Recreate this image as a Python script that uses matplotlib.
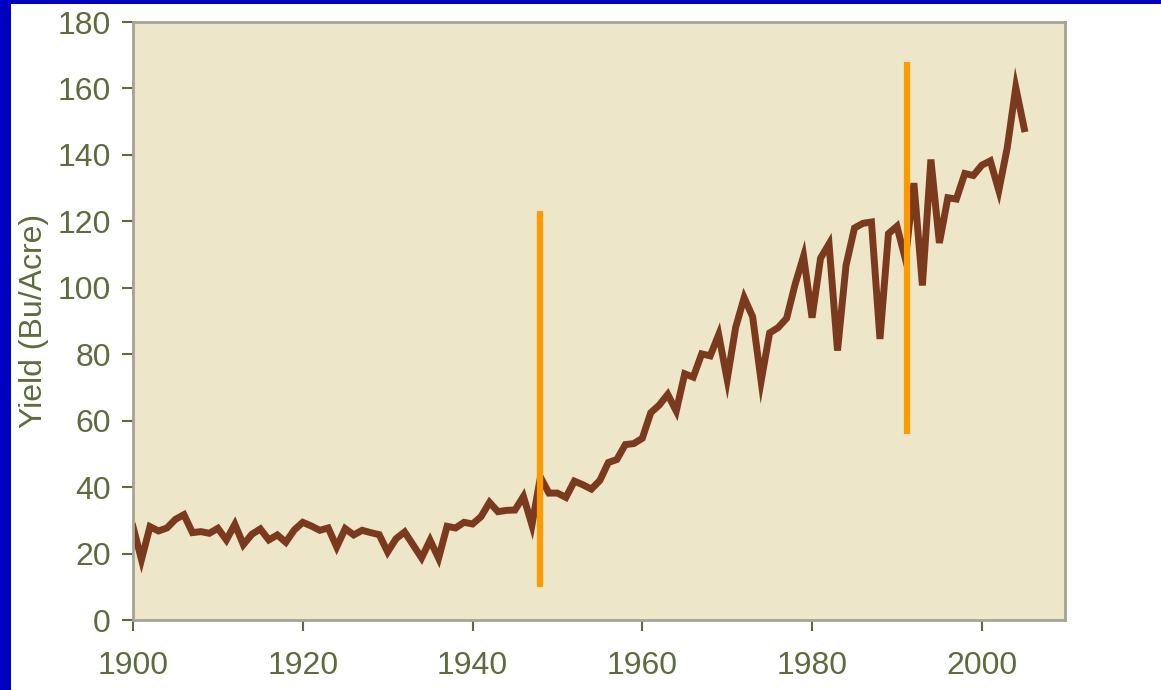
import matplotlib.pyplot as plt
from matplotlib.patches import Rectangle

# US corn yield, bushels per acre
years = list(range(1900, 2006))
yields = [
    28.1, 18.2, 28.1, 26.8, 27.7, 30.3, 31.7, 26.3, 26.6, 26.1,
    27.6, 24.1, 28.8, 22.7, 25.8, 27.4, 24.1, 25.6, 23.4, 27.1,
    29.4, 28.3, 27.0, 27.7, 22.0, 27.5, 25.6, 27.0, 26.3, 25.7,
    20.5, 24.5, 26.5, 22.6, 18.7, 24.0, 18.6, 28.2, 27.7, 29.4,
    28.9, 31.1, 35.4, 32.6, 33.0, 33.1, 37.2, 28.6, 43.0, 38.2,
    38.2, 36.9, 41.8, 40.7, 39.4, 42.0, 47.4, 48.3, 52.8, 53.1,
    54.7, 62.4, 64.7, 67.9, 62.9, 74.1, 73.1, 80.1, 79.5, 85.9,
    72.4, 88.1, 97.0, 91.3, 71.9, 86.4, 88.0, 90.8, 101.0, 109.5,
    91.0, 108.9, 113.2, 81.1, 106.7, 118.0, 119.4, 119.8, 84.6, 116.3,
    118.5, 108.6, 131.5, 100.7, 138.6, 113.5, 127.1, 126.7, 134.4, 133.8,
    136.9, 138.2, 129.3, 142.2, 160.3, 147.9,
]

# orange marker lines: (year, bottom, top)
marker_years = [1948, 1991.2]
marker_bottoms = [10, 56]
marker_tops = [123, 168]

x_ticks = [1900, 1920, 1940, 1960, 1980, 2000]
y_ticks = list(range(0, 181, 20))

text_color = '#5e6b3c'
plt.rcParams['font.family'] = ['Liberation Sans', 'DejaVu Sans']

fig = plt.figure(figsize=(11.61, 6.9), dpi=100)
# blue frame around a white page
fig.patches.append(Rectangle((0, 0), 1, 1, transform=fig.transFigure,
                             facecolor='#0000c0', zorder=-2))
fig.patches.append(Rectangle((11 / 1161, 0), 1, 1 - 4 / 690, transform=fig.transFigure,
                             facecolor='white', zorder=-1))

ax = fig.add_axes([133 / 1161, 70 / 690, 932 / 1161, 598 / 690])
ax.set_facecolor('#ede6c9')

ax.plot(years, yields, color='#7b3a1e', linewidth=5, solid_joinstyle='miter')
ax.vlines(marker_years, marker_bottoms, marker_tops, color='#ff9900', linewidth=4.5)

ax.set_xlim(1900, 2009.8)
ax.set_ylim(0, 180)
ax.set_xticks(x_ticks)
ax.set_yticks(y_ticks)
ax.tick_params(colors=text_color, labelsize=23, length=8, width=1.5, pad=8)
ax.tick_params(axis='x', pad=14)
for s in ax.spines.values():
    s.set_color('#a3a396')
    s.set_linewidth(2)

ax.set_ylabel('Yield (Bu/Acre)', fontsize=23, color=text_color, labelpad=6)

fig.savefig('out.png', dpi=100)
